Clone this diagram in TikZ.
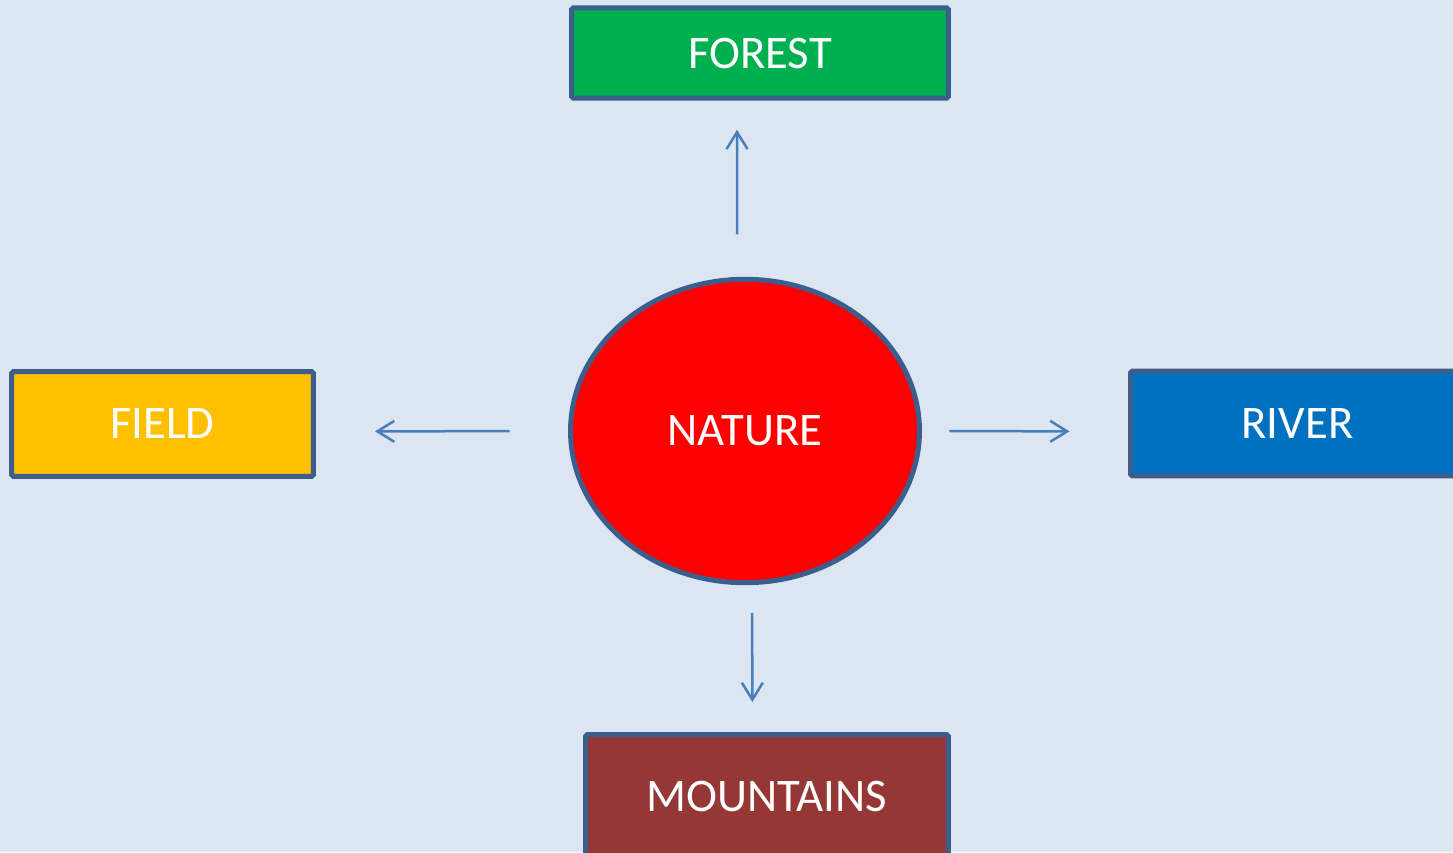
\documentclass[tikz,border=0pt]{standalone}
\usepackage{fontspec}
\setmainfont{Carlito}
\usepackage{tikz}
\usetikzlibrary{arrows.meta}
\usetikzlibrary{positioning}
\usetikzlibrary{shapes.geometric}
\definecolor{bgblue}{HTML}{DCE6F2}
\definecolor{edgeblue}{HTML}{3B5E8C}
\definecolor{arrowblue}{HTML}{4A7EBB}
\definecolor{forestgreen}{HTML}{00B050}
\definecolor{fieldyellow}{HTML}{FFC000}
\definecolor{riverblue}{HTML}{0070C0}
\definecolor{mountainred}{HTML}{953735}
\tikzset{
    topic/.style = {draw=edgeblue,line width=0.1cm,text=white,font=\fontsize{26.6}{32}\selectfont},
    box/.style = {topic,rectangle,rounded corners=1pt},
    hub/.style = {topic,ellipse,fill=red,minimum width=6.98cm,minimum height=6.07cm,inner sep=0}
}
\tikzset{
    branch/.style = {arrowblue,line width=0.05cm,-{Straight Barb[length=0.34cm,width=0.42cm]}}
}

\begin{document}
\begin{tikzpicture}[x=0.02cm,y=-0.02cm]
        % Page
        \fill[bgblue] (0,0) rectangle (1453,852);
        \useasboundingbox (0,0) rectangle (1453,852);
        \clip (0,0) rectangle (1453,852);
        % Hub
        \path (745,431) node[hub] (nature) {NATURE};
        % Topics
        \path (760,53) node[box,fill=forestgreen,minimum width=7.54cm,minimum height=1.81cm] (forest) {FOREST};
        \path (162.5,424) node[box,fill=fieldyellow,minimum width=6.04cm,minimum height=2.1cm] (field) {FIELD};
        \path (1297.5,423.5) node[box,fill=riverblue,minimum width=6.68cm,minimum height=2.1cm] (river) {RIVER};
        \path (767,796) node[box,fill=mountainred,minimum width=7.26cm,minimum height=2.46cm] (mountains) {MOUNTAINS};
        % Branches
        \draw[branch,shorten <=0.85cm,shorten >=0.58cm] ([xshift=-0.16cm]nature.north) to ([xshift=-0.46cm]forest.south);
        \draw[branch,shorten <=1.17cm,shorten >=1.18cm] (nature.west) to ([yshift=-0.15cm]field.east);
        \draw[branch,shorten <=0.55cm,shorten >=1.17cm] (nature.east) to ([yshift=-0.16cm]river.west);
        \draw[branch,shorten <=0.56cm,shorten >=0.6cm] ([xshift=0.14cm]nature.south) to ([xshift=-0.29cm]mountains.north);
    \end{tikzpicture}
\end{document}
